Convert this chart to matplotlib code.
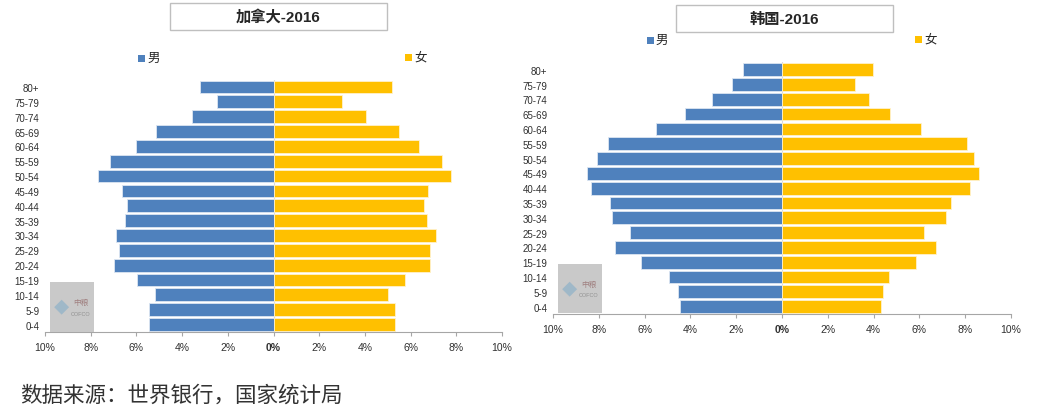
import numpy as np
import matplotlib
matplotlib.use("agg")
import matplotlib.pyplot as plt
from matplotlib.patches import Rectangle

plt.rcParams['font.family'] = ['Liberation Sans', 'Noto Sans CJK SC', 'DejaVu Sans']

age_groups = ['0-4', '5-9', '10-14', '15-19', '20-24', '25-29', '30-34', '35-39',
              '40-44', '45-49', '50-54', '55-59', '60-64', '65-69', '70-74', '75-79', '80+']

# percent of total population, youngest group first
canada_male = [5.44, 5.45, 5.19, 5.99, 6.97, 6.77, 6.90, 6.49,
               6.39, 6.65, 7.66, 7.16, 6.02, 5.14, 3.56, 2.46, 3.20]
canada_female = [5.31, 5.31, 5.03, 5.76, 6.86, 6.84, 7.11, 6.70,
                 6.57, 6.74, 7.77, 7.37, 6.37, 5.50, 4.03, 3.01, 5.20]
korea_male = [4.44, 4.52, 4.92, 6.17, 7.31, 6.65, 7.44, 7.49,
              8.33, 8.52, 8.08, 7.59, 5.51, 4.22, 3.04, 2.18, 1.69]
korea_female = [4.33, 4.41, 4.67, 5.84, 6.71, 6.19, 7.16, 7.38,
                8.22, 8.59, 8.37, 8.07, 6.09, 4.70, 3.82, 3.19, 3.96]

x_ticks = [-10, -8, -6, -4, -2, 0, 2, 4, 6, 8, 10]
x_tick_labels = ['10%', '8%', '6%', '4%', '2%', '0%', '2%', '4%', '6%', '8%', '10%']

BLUE = '#4f81bd'
GOLD = '#ffc000'

W, H = 1041, 414
fig = plt.figure(figsize=(W / 100, H / 100), dpi=100)


def px(x0, y0, x1, y1):
    """pixel box (top-left origin) -> figure rect"""
    return [x0 / W, 1 - y1 / H, (x1 - x0) / W, (y1 - y0) / H]


def draw_pyramid(rect, male, female):
    ax = fig.add_axes(rect)
    y = np.arange(len(age_groups))
    ax.barh(y, np.negative(male), height=0.86, color=BLUE, edgecolor='#dce6f2', linewidth=0.6)
    ax.barh(y, female, height=0.86, color=GOLD, edgecolor='#fff2cc', linewidth=0.6)
    ax.axvline(0, color='#d9d9d9', linewidth=0.8, zorder=0)
    ax.set_xlim(-10, 10)
    ax.set_ylim(-0.5, len(age_groups) - 0.5)
    ax.set_yticks(y)
    ax.set_yticklabels(age_groups, fontsize=7, color='#303030')
    ax.set_xticks(x_ticks)
    ax.set_xticklabels(x_tick_labels, fontsize=7.5, color='#303030')
    for lbl in ax.get_xticklabels():
        if lbl.get_text() == '0%':
            lbl.set_fontweight('bold')
    ax.tick_params(axis='y', length=0, pad=4)
    ax.tick_params(axis='x', length=3, color='#a6a6a6', pad=4)
    for side in ['top', 'right', 'left']:
        ax.spines[side].set_visible(False)
    ax.spines['bottom'].set_color('#a6a6a6')
    return ax


def title_box(x0, y0, x1, y1, text):
    fig.add_artist(Rectangle((x0 / W, 1 - y1 / H), (x1 - x0) / W, (y1 - y0) / H,
                             transform=fig.transFigure, facecolor='white',
                             edgecolor='#bfbfbf', linewidth=1.0))
    fig.text((x0 + x1) / 2 / W, 1 - (y0 + y1) / 2 / H, text, ha='center', va='center',
             fontsize=11, fontweight='bold', color='#262626')


def legend_item(x, y, color, label):
    fig.add_artist(Rectangle((x / W, 1 - (y + 3.5) / H), 7 / W, 7 / H,
                             transform=fig.transFigure, facecolor=color, edgecolor='none'))
    fig.text((x + 9) / W, 1 - y / H, label, ha='left', va='center', fontsize=9,
             color='#262626')


def watermark(x0, y0, x1, y1):
    fig.add_artist(Rectangle((x0 / W, 1 - y1 / H), (x1 - x0) / W, (y1 - y0) / H,
                             transform=fig.transFigure, facecolor='#c9c9c9',
                             edgecolor='none', zorder=5))
    fig.text((x0 + 11) / W, 1 - (y0 + 25) / H, '◆', ha='center', va='center',
             fontsize=11, color='#9fb8c8', zorder=6)
    fig.text((x0 + 31) / W, 1 - (y0 + 20) / H, '中粮', ha='center', va='center',
             fontsize=5.5, color='#a08080', zorder=6)
    fig.text((x0 + 31) / W, 1 - (y0 + 31) / H, 'COFCO', ha='center', va='center',
             fontsize=4, color='#909090', zorder=6)


draw_pyramid(px(45, 80.6, 502, 333), canada_male, canada_female)
draw_pyramid(px(553, 63.3, 1011, 315), korea_male, korea_female)

title_box(170, 4, 387, 31, '加拿大-2016')
title_box(676, 6, 893, 33, '韩国-2016')

legend_item(138, 59, BLUE, '男')
legend_item(405, 58, GOLD, '女')
legend_item(647, 41, BLUE, '男')
legend_item(915, 40, GOLD, '女')

watermark(50, 283, 94, 333)
watermark(558, 265, 602, 314)

fig.text(20 / W, 1 - 396 / H, '数据来源：世界银行，国家统计局', ha='left', va='center',
         fontsize=15.5, family=['Noto Sans CJK SC'], color='#333333')

fig.savefig('out.png', dpi=100)
